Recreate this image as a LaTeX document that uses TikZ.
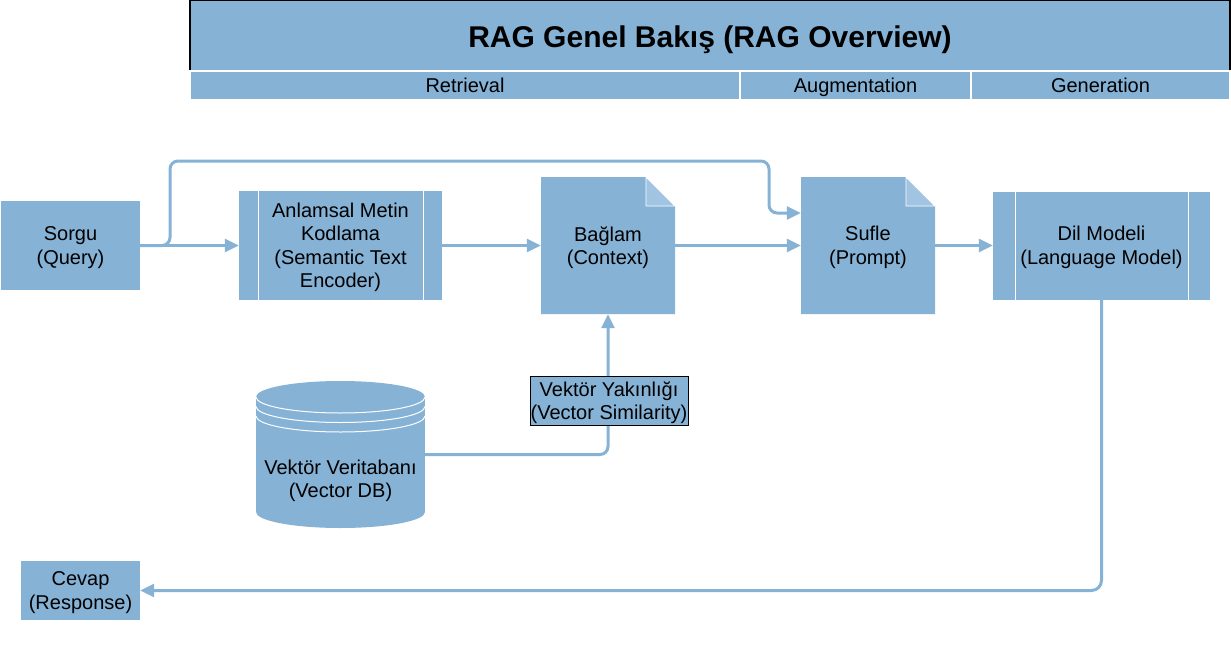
\documentclass[tikz,border=0pt]{standalone}
\usepackage{fontspec}
\setmainfont{Liberation Sans}
\usetikzlibrary{arrows.meta}
\definecolor{rblue}{RGB}{134,178,213}
\definecolor{rfold}{RGB}{160,196,226}
\begin{document}
\begin{tikzpicture}[x=1pt,y=-1pt,
  base/.style={font=\fontsize{20}{23.5}\selectfont, align=center, inner sep=0pt, text=black, text depth=0pt},
  plainbox/.style={base, fill=rblue},
  procbox/.style={base, fill=rblue, path picture={
    \draw[white, line width=1pt] ([xshift=#1]path picture bounding box.north west) -- ([xshift=#1]path picture bounding box.south west);
    \draw[white, line width=1pt] ([xshift=-#1]path picture bounding box.north east) -- ([xshift=-#1]path picture bounding box.south east);}},
  docbox/.style={base, fill=white, path picture={
    \fill[rblue] (path picture bounding box.north west) -- ([xshift=-29pt]path picture bounding box.north east) -- ([yshift=-29pt]path picture bounding box.north east) -- (path picture bounding box.south east) -- (path picture bounding box.south west) -- cycle;
    \filldraw[fill=rfold, draw=white, line width=0.8pt] ([xshift=-29pt]path picture bounding box.north east) -- ([xshift=-29pt,yshift=-29pt]path picture bounding box.north east) -- ([yshift=-29pt]path picture bounding box.north east) -- cycle;}},
  cylbox/.style={base, fill=white, path picture={
    \fill[rblue] ([yshift=-16pt]path picture bounding box.north west) rectangle ([yshift=16pt]path picture bounding box.south east);
    \fill[rblue] ([yshift=-16pt]path picture bounding box.north) ellipse [x radius=84.5pt, y radius=16pt];
    \fill[rblue] ([yshift=16pt]path picture bounding box.south) ellipse [x radius=84.5pt, y radius=16pt];
    \foreach \yy in {16,25.5,35}
      \draw[white, line width=1pt] ([yshift=-\yy pt]path picture bounding box.north west) arc[start angle=180, end angle=360, x radius=84.5pt, y radius=16pt];}},
  simbox/.style={base, fill=rblue, draw=black, line width=1pt},
  lanebox/.style={fill=rblue, draw=white, line width=1.5pt, inner sep=0pt, font=\fontsize{20}{23.5}\selectfont, text=black, text height=14.3pt, text depth=0pt},
  titlebox/.style={fill=rblue, inner sep=0pt, font=\fontsize{30}{36}\selectfont\bfseries, text=black, text height=25.5pt, text depth=0pt},
  edge/.style={draw=rblue, line width=3pt, line join=round, -{Triangle[length=14pt,width=13pt]}}
]
\useasboundingbox (0,0) rectangle (1231,661);

% header
\node[titlebox, minimum width=1040pt, minimum height=70pt] (title) at (710,35) {RAG Genel Bakış (RAG Overview)};
\draw[black, line width=2pt] (title.south west) -- (title.north west) -- (title.north east) -- (title.south east);
\node[lanebox, minimum width=550pt, minimum height=29pt] (retrieval) at (465,85.5) {Retrieval};
\node[lanebox, minimum width=230pt, minimum height=29pt] (augmentation) at (855.5,85.5) {Augmentation};
\node[lanebox, minimum width=259pt, minimum height=29pt] (generation) at (1100.5,85.5) {Generation};

% nodes
\node[plainbox, minimum width=139pt, minimum height=89pt] (query) at (70.5,245.5) {Sorgu\\(Query)};
\node[procbox=19pt, minimum width=203pt, minimum height=109pt] (encoder) at (340.5,245.5) {Anlamsal Metin\\Kodlama\\(Semantic Text\\Encoder)};
\node[docbox, minimum width=134pt, minimum height=137pt] (context) at (608,245.5) {Bağlam\\(Context)};
\node[docbox, minimum width=134pt, minimum height=137pt] (prompt) at (868,245.5) {Sufle\\(Prompt)};
\node[procbox=22pt, minimum width=217pt, minimum height=108pt] (llm) at (1101.5,245.5) {Dil Modeli\\(Language Model)};
\node[cylbox, minimum width=169pt, minimum height=147pt] (vdb) at (340.5,454.5) {\raisebox{-32pt}[0pt][0pt]{\begin{tabular}{@{}c@{}}Vektör Veritabanı\\(Vector DB)\end{tabular}}};
\node[plainbox, minimum width=119pt, minimum height=59pt] (response) at (80.5,590.5) {Cevap\\(Response)};

% connectors
\coordinate (lp1) at (170,161);
\coordinate (lp2) at (769,161);
\draw[edge] (query.east) -- (encoder.west);
\draw[edge, rounded corners=8pt] (query.east) -| (lp1) -- (lp2) |- ([yshift=32.5pt]prompt.west);
\draw[edge] (encoder.east) -- (context.west);
\draw[edge] (context.east) -- (prompt.west);
\draw[edge] (prompt.east) -- (llm.west);
\draw[edge, rounded corners=10pt] (llm.south) |- (response.east);
\draw[edge, rounded corners=8pt] (vdb.east) -| (context.south);
\node[simbox, minimum width=158pt, minimum height=49pt] (sim) at (609,400.5) {Vektör Yakınlığı\\(Vector Similarity)};
\end{tikzpicture}
\end{document}
